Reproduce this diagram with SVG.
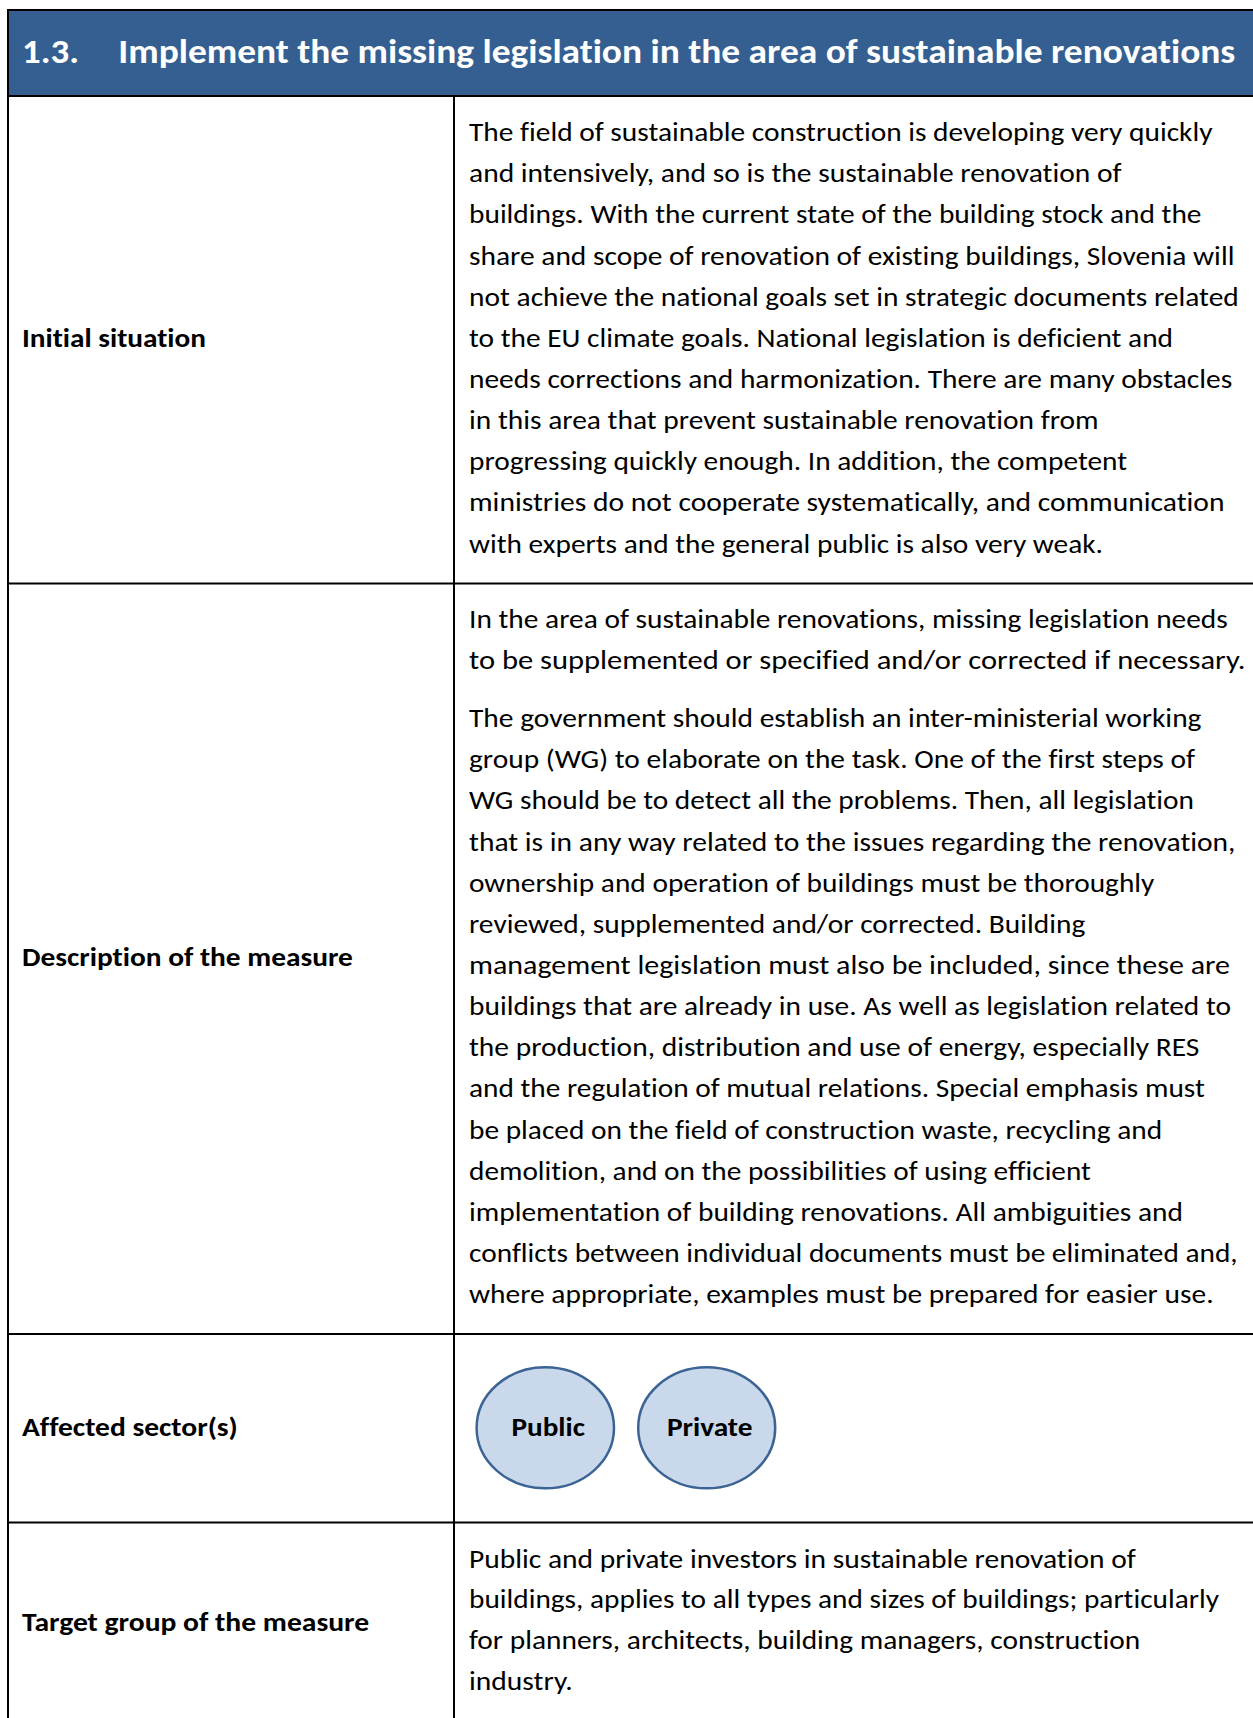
<svg xmlns="http://www.w3.org/2000/svg" width="1253" height="1718" viewBox="0 0 1253 1718">
  <style>
    text { font-variant-ligatures: none; }
    .body { font-family: Carlito, Lato, "Liberation Sans", sans-serif; font-size: 27px; fill: #000000; }
    .label { font-family: Carlito, Lato, "Liberation Sans", sans-serif; font-size: 27px; font-weight: 700; fill: #000000; }
    .title { font-family: Carlito, Lato, "Liberation Sans", sans-serif; font-size: 35px; font-weight: 700; fill: #ffffff; }
    .grid { stroke: #000000; stroke-width: 2; fill: none; }
    .sector { fill: #c9d9eb; stroke: #3b6494; stroke-width: 2.5; }
    .sector-text { font-family: Carlito, Lato, "Liberation Sans", sans-serif; font-size: 27px; font-weight: 700; fill: #000000; }
  </style>

  <rect x="0" y="0" width="1253" height="1718" fill="#ffffff"/>

  <!-- title bar -->
  <g id="title">
    <rect x="8" y="10" width="1245" height="86" fill="#365f91"/>
    <text class="title" x="22" y="63" textLength="57" lengthAdjust="spacingAndGlyphs">1.3.</text>
    <text class="title" x="118.3" y="63" textLength="1117" lengthAdjust="spacingAndGlyphs">Implement the missing legislation in the area of sustainable renovations</text>
  </g>

  <!-- table rules -->
  <g id="grid">
    <line class="grid" x1="7" y1="10" x2="1253" y2="10"/>
    <line class="grid" x1="7" y1="96" x2="1253" y2="96"/>
    <line class="grid" x1="8" y1="9" x2="8" y2="1718"/>
    <line class="grid" x1="454" y1="96" x2="454" y2="1718"/>
    <line class="grid" x1="7" y1="583.5" x2="1253" y2="583.5"/>
    <line class="grid" x1="7" y1="1334" x2="1253" y2="1334"/>
    <line class="grid" x1="7" y1="1522.5" x2="1253" y2="1522.5"/>
  </g>

  <!-- row: initial situation -->
  <g id="initial-situation">
    <text class="label" x="22" y="347" textLength="184" lengthAdjust="spacingAndGlyphs">Initial situation</text>
    <text class="body" x="469" y="141" textLength="743.5" lengthAdjust="spacingAndGlyphs">The field of sustainable construction is developing very quickly</text>
    <text class="body" x="469" y="182.2" textLength="652.6" lengthAdjust="spacingAndGlyphs">and intensively, and so is the sustainable renovation of</text>
    <text class="body" x="469" y="223.3" textLength="732.5" lengthAdjust="spacingAndGlyphs">buildings. With the current state of the building stock and the</text>
    <text class="body" x="469" y="264.5" textLength="765.4" lengthAdjust="spacingAndGlyphs">share and scope of renovation of existing buildings, Slovenia will</text>
    <text class="body" x="469" y="305.6" textLength="769.8" lengthAdjust="spacingAndGlyphs">not achieve the national goals set in strategic documents related</text>
    <text class="body" x="469" y="346.8" textLength="704" lengthAdjust="spacingAndGlyphs">to the EU climate goals. National legislation is deficient and</text>
    <text class="body" x="469" y="387.9" textLength="763.2" lengthAdjust="spacingAndGlyphs">needs corrections and harmonization. There are many obstacles</text>
    <text class="body" x="469" y="429.1" textLength="629.6" lengthAdjust="spacingAndGlyphs">in this area that prevent sustainable renovation from</text>
    <text class="body" x="469" y="470.2" textLength="658" lengthAdjust="spacingAndGlyphs">progressing quickly enough. In addition, the competent</text>
    <text class="body" x="469" y="511.4" textLength="755.5" lengthAdjust="spacingAndGlyphs">ministries do not cooperate systematically, and communication</text>
    <text class="body" x="469" y="552.5" textLength="634" lengthAdjust="spacingAndGlyphs">with experts and the general public is also very weak.</text>
  </g>

  <!-- row: description of the measure -->
  <g id="description">
    <text class="label" x="22" y="966" textLength="330.8" lengthAdjust="spacingAndGlyphs">Description of the measure</text>
    <text class="body" x="469" y="628" textLength="758.8" lengthAdjust="spacingAndGlyphs">In the area of sustainable renovations, missing legislation needs</text>
    <text class="body" x="469" y="669.2" textLength="776.4" lengthAdjust="spacingAndGlyphs">to be supplemented or specified and/or corrected if necessary.</text>
    <text class="body" x="469" y="727" textLength="732.5" lengthAdjust="spacingAndGlyphs">The government should establish an inter-ministerial working</text>
    <text class="body" x="469" y="768.2" textLength="726" lengthAdjust="spacingAndGlyphs">group (WG) to elaborate on the task. One of the first steps of</text>
    <text class="body" x="469" y="809.3" textLength="724.9" lengthAdjust="spacingAndGlyphs">WG should be to detect all the problems. Then, all legislation</text>
    <text class="body" x="469" y="850.5" textLength="766.5" lengthAdjust="spacingAndGlyphs">that is in any way related to the issues regarding the renovation,</text>
    <text class="body" x="469" y="891.6" textLength="685.4" lengthAdjust="spacingAndGlyphs">ownership and operation of buildings must be thoroughly</text>
    <text class="body" x="469" y="932.8" textLength="616.4" lengthAdjust="spacingAndGlyphs">reviewed, supplemented and/or corrected. Building</text>
    <text class="body" x="469" y="973.9" textLength="761" lengthAdjust="spacingAndGlyphs">management legislation must also be included, since these are</text>
    <text class="body" x="469" y="1015.1" textLength="762" lengthAdjust="spacingAndGlyphs">buildings that are already in use. As well as legislation related to</text>
    <text class="body" x="469" y="1056.2" textLength="730.4" lengthAdjust="spacingAndGlyphs">the production, distribution and use of energy, especially RES</text>
    <text class="body" x="469" y="1097.4" textLength="735.8" lengthAdjust="spacingAndGlyphs">and the regulation of mutual relations. Special emphasis must</text>
    <text class="body" x="469" y="1138.5" textLength="693.1" lengthAdjust="spacingAndGlyphs">be placed on the field of construction waste, recycling and</text>
    <text class="body" x="469" y="1179.7" textLength="621.9" lengthAdjust="spacingAndGlyphs">demolition, and on the possibilities of using efficient</text>
    <text class="body" x="469" y="1220.8" textLength="713.9" lengthAdjust="spacingAndGlyphs">implementation of building renovations. All ambiguities and</text>
    <text class="body" x="469" y="1262" textLength="768.7" lengthAdjust="spacingAndGlyphs">conflicts between individual documents must be eliminated and,</text>
    <text class="body" x="469" y="1303.1" textLength="744.6" lengthAdjust="spacingAndGlyphs">where appropriate, examples must be prepared for easier use.</text>
  </g>

  <!-- row: affected sectors -->
  <g id="affected-sectors">
    <text class="label" x="22" y="1436" textLength="215.8" lengthAdjust="spacingAndGlyphs">Affected sector(s)</text>
  </g>
  <g id="sector-public">
    <ellipse class="sector" cx="545.3" cy="1427.8" rx="68.7" ry="60.5"/>
    <text class="sector-text" x="548.2" y="1436" text-anchor="middle" textLength="73.4" lengthAdjust="spacingAndGlyphs">Public</text>
  </g>
  <g id="sector-private">
    <ellipse class="sector" cx="706.7" cy="1427.8" rx="68.5" ry="60.5"/>
    <text class="sector-text" x="709.7" y="1436" text-anchor="middle" textLength="85.5" lengthAdjust="spacingAndGlyphs">Private</text>
  </g>

  <!-- row: target group -->
  <g id="target-group">
    <text class="label" x="22" y="1630.7" textLength="347.2" lengthAdjust="spacingAndGlyphs">Target group of the measure</text>
    <text class="body" x="469" y="1567.5" textLength="666.8" lengthAdjust="spacingAndGlyphs">Public and private investors in sustainable renovation of</text>
    <text class="body" x="469" y="1608.4" textLength="750" lengthAdjust="spacingAndGlyphs">buildings, applies to all types and sizes of buildings; particularly</text>
    <text class="body" x="469" y="1649.3" textLength="671.2" lengthAdjust="spacingAndGlyphs">for planners, architects, building managers, construction</text>
    <text class="body" x="469" y="1690.2" textLength="103.8" lengthAdjust="spacingAndGlyphs">industry.</text>
  </g>
</svg>
